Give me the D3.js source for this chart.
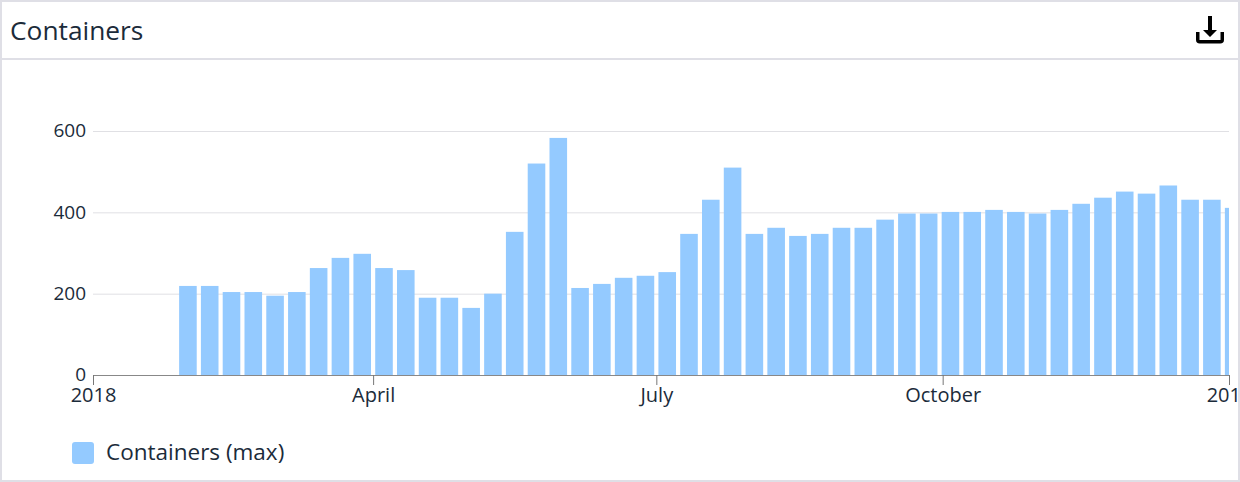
<!DOCTYPE html>
<html>
<head>
<meta charset="utf-8">
<script src="https://cdn.jsdelivr.net/npm/d3@7"></script>
<style>
  html, body { margin: 0; padding: 0; background: #fff; }
  svg { display: block; font-family: "Open Sans", sans-serif; }
  text { fill: #1b2b3a; }
</style>
</head>
<body>
<script>
// Week start dates, one per bar
const firstWeek = new Date(2018, 0, 28);
const values = [219, 219, 204, 204, 195, 204, 263, 288, 298, 263, 258, 190, 190, 165, 200, 352, 520, 583,
    214, 224, 239, 244, 253, 347, 431, 510, 347, 362, 342, 347, 362, 362, 382, 397, 397, 401, 401, 406,
    401, 397, 406, 421, 436, 451, 446, 466, 431, 431, 411];
const weeks = values.map((_, i) => d3.timeWeek.offset(firstWeek, i));

const xTicks = [new Date(2018, 0, 1), new Date(2018, 3, 1), new Date(2018, 6, 1), new Date(2018, 9, 1), new Date(2019, 0, 1)];
const xTickLabels = ["2018", "April", "July", "October", "2019"];
const yTicks = [0, 200, 400, 600];
const title = "Containers";
const seriesName = "Containers (max)";

const W = 1240, H = 482;
const margin = { top: 90, right: 11, bottom: 107, left: 93 };

const svg = d3.select("body").append("svg")
    .attr("width", W)
    .attr("height", H);

// Scales
const x = d3.scaleTime()
    .domain([new Date(2018, 0, 1), new Date(2019, 0, 1)])
    .range([margin.left, W - margin.right]);

const y = d3.scaleLinear()
    .domain([0, 600])
    .range([H - margin.bottom, 131]);

svg.append("defs").append("clipPath")
    .attr("id", "plot")
    .append("rect")
    .attr("x", margin.left)
    .attr("y", margin.top)
    .attr("width", W - margin.left - margin.right)
    .attr("height", H - margin.top - margin.bottom);

// Grid lines and y labels
const yAxis = svg.append("g")
    .attr("transform", `translate(${margin.left},0)`)
    .call(d3.axisLeft(y).tickValues(yTicks).tickSize(-(W - margin.left - margin.right)).tickPadding(7));
yAxis.select(".domain").remove();
yAxis.selectAll("line").attr("stroke", "#e0e0e4").attr("stroke-width", 1);
yAxis.selectAll("text")
    .attr("font-family", "Open Sans")
    .attr("font-size", 19)
    .attr("dy", "0.3em");

// Bars
svg.append("g")
    .attr("clip-path", "url(#plot)")
    .selectAll("rect")
    .data(values)
    .join("rect")
    .attr("x", (d, i) => x(weeks[i]) + 2.1)
    .attr("width", (d, i) => x(d3.timeWeek.offset(weeks[i], 1)) - x(weeks[i]) - 4.2)
    .attr("y", d => y(d))
    .attr("height", d => y(0) - y(d))
    .attr("fill", "#94caff");

// X axis
const xAxis = svg.append("g")
    .attr("transform", `translate(0,${y(0)})`)
    .call(d3.axisBottom(x)
        .tickValues(xTicks)
        .tickFormat((d, i) => xTickLabels[i])
        .tickSize(10)
        .tickSizeOuter(0)
        .tickPadding(3));
xAxis.select(".domain").attr("stroke", "#888").attr("stroke-width", 1);
xAxis.selectAll("line").attr("stroke", "#777").attr("stroke-width", 1);
xAxis.selectAll("text")
    .attr("font-family", "Open Sans")
    .attr("font-size", 20);

// Header
svg.append("text")
    .attr("x", 10)
    .attr("y", 40)
    .attr("font-size", 26.3)
    .text(title);

svg.append("line")
    .attr("x1", 0).attr("x2", W)
    .attr("y1", 59).attr("y2", 59)
    .attr("stroke", "#dfdfe6")
    .attr("stroke-width", 2);

// Download icon
const icon = svg.append("g").attr("transform", "translate(1196,16)");
icon.append("path")
    .attr("d", "M12 0h4v14h5l-7 7l-7-7h5z")
    .attr("fill", "#000");
icon.append("path")
    .attr("d", "M1.75 16v7.75a2 2 0 0 0 2 2h20.5a2 2 0 0 0 2-2v-7.75")
    .attr("fill", "none")
    .attr("stroke", "#000")
    .attr("stroke-width", 3.5);

// Legend
svg.append("rect")
    .attr("x", 72).attr("y", 442)
    .attr("width", 22).attr("height", 22)
    .attr("rx", 3)
    .attr("fill", "#94caff");
svg.append("text")
    .attr("x", 106)
    .attr("y", 460)
    .attr("font-size", 22.5)
    .text(seriesName);

// Panel border drawn last, it cuts the 2019 label
svg.append("rect")
    .attr("x", 1).attr("y", 1)
    .attr("width", W - 2).attr("height", H - 2)
    .attr("fill", "none")
    .attr("stroke", "#dfdfe6")
    .attr("stroke-width", 2);
</script>
</body>
</html>
